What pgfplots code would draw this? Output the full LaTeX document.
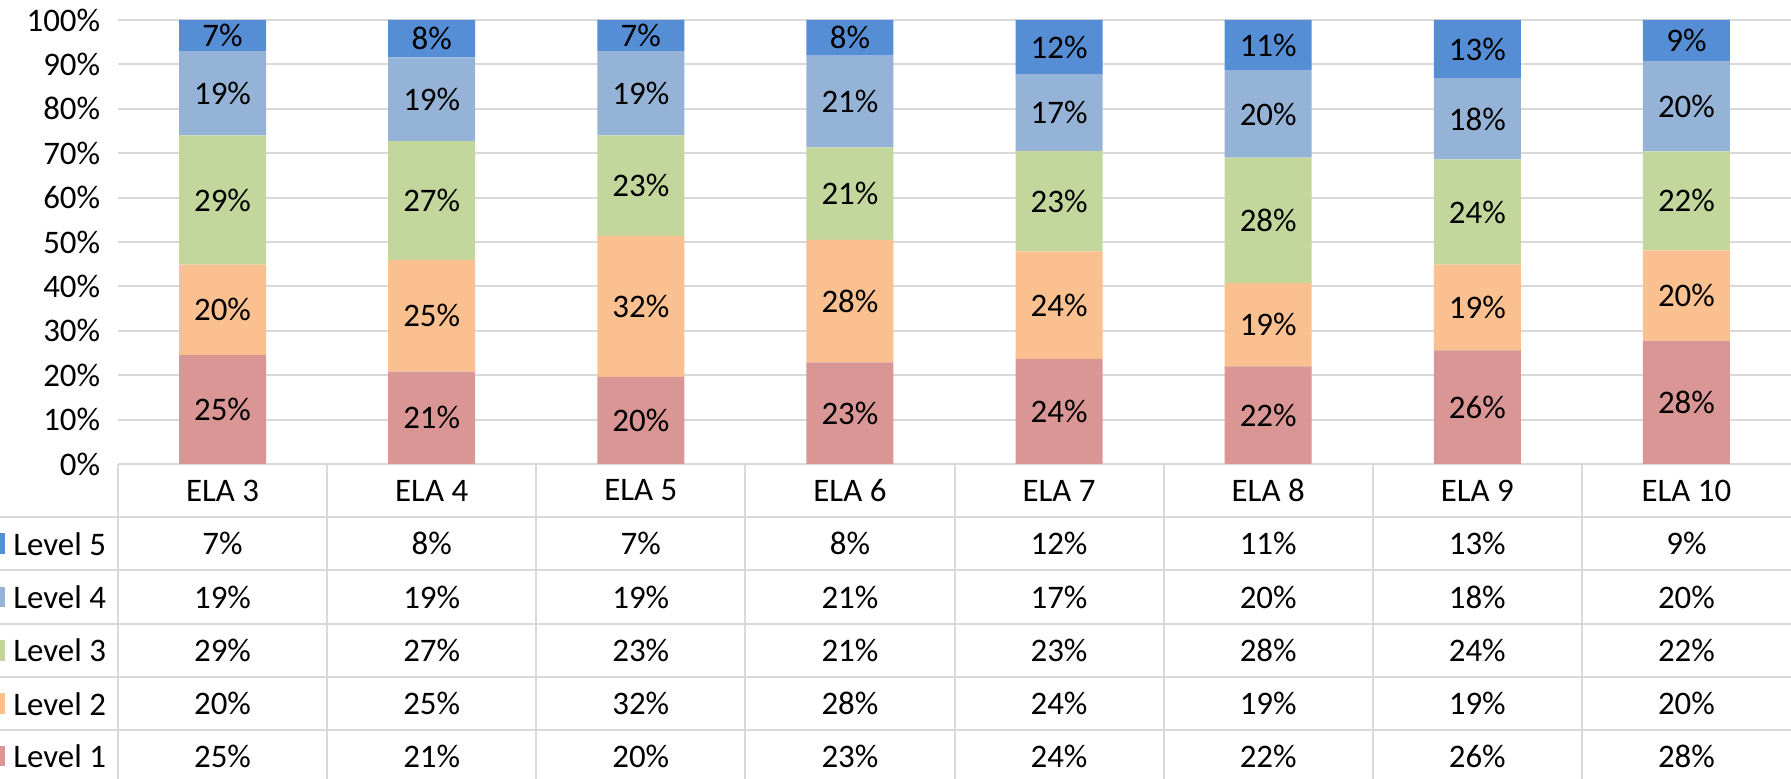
\documentclass[border=0pt]{standalone}
\usepackage{pgfplots}
\pgfplotsset{compat=1.18}
\usepackage{pgfplotstable}
\usepackage{fontspec}
\setmainfont{Carlito}
\definecolor{cL5}{RGB}{85,142,213}
\definecolor{cL4}{RGB}{149,179,215}
\definecolor{cL3}{RGB}{195,214,155}
\definecolor{cL2}{RGB}{250,192,144}
\definecolor{cL1}{RGB}{217,150,148}
\definecolor{gridc}{RGB}{217,217,217}
\newcommand\lbl{\fontsize{16.5}{19}\selectfont}
\pgfplotstableread{
x L1 L2 L3 L4 L5 R1 R2 R3 R4 R5
0 24.6 20.3 29.1 19.0 7.0 25 20 29 19 7
1 20.8 25.2 26.7 18.9 8.4 21 25 27 19 8
2 19.6 31.8 22.6 19.0 7.0 20 32 23 19 7
3 22.9 27.6 20.8 20.7 8.0 23 28 21 21 8
4 23.7 24.2 22.6 17.3 12.2 24 24 23 17 12
5 22.0 18.8 28.2 19.6 11.4 22 19 28 20 11
6 25.6 19.3 23.7 18.2 13.2 26 19 24 18 13
7 27.8 20.3 22.3 20.4 9.2 28 20 22 20 9
}\data
\begin{document}
\begin{tikzpicture}
\pgfplotsset{every axis/.append style={
  at={(0,0)}, anchor=south west, scale only axis,
  width=836.5bp, height=222bp,
  xmin=-0.5, xmax=7.5, ymin=0, ymax=100}}
\begin{axis}[
  ybar stacked, bar width=43.5bp,
  ytick={0,10,...,100}, xtick=\empty,
  axis line style={draw=none},
  major tick length=0pt,
  ymajorgrids, grid style={draw=gridc, line width=1bp},
  yticklabel={\pgfmathprintnumber{\tick}\%},
  yticklabel style={font=\lbl, anchor=east, inner sep=0pt, xshift=-8.75bp, text=black},
  /pgf/number format/assume math mode=true,
  clip=false,
]
\addplot[fill=cL1, draw=none] table[x=x, y=L1]{\data};
\addplot[fill=cL2, draw=none] table[x=x, y=L2]{\data};
\addplot[fill=cL3, draw=none] table[x=x, y=L3]{\data};
\addplot[fill=cL4, draw=none] table[x=x, y=L4]{\data};
\addplot[fill=cL5, draw=none] table[x=x, y=L5]{\data};
\end{axis}
\begin{axis}[hide axis, clip=false,
  nodes near coords={\pgfplotspointmeta\%},
  point meta=explicit symbolic,
  every node near coord/.append style={anchor=center, text=black, font=\lbl, inner sep=0pt},
]
\addplot[draw=none, mark=none] table[x=x, y expr=\thisrow{L1}/2, meta=R1]{\data};
\addplot[draw=none, mark=none] table[x=x, y expr=\thisrow{L1}+\thisrow{L2}/2, meta=R2]{\data};
\addplot[draw=none, mark=none] table[x=x, y expr=\thisrow{L1}+\thisrow{L2}+\thisrow{L3}/2, meta=R3]{\data};
\addplot[draw=none, mark=none] table[x=x, y expr=\thisrow{L1}+\thisrow{L2}+\thisrow{L3}+\thisrow{L4}/2, meta=R4]{\data};
\addplot[draw=none, mark=none] table[x=x, y expr=\thisrow{L1}+\thisrow{L2}+\thisrow{L3}+\thisrow{L4}+\thisrow{L5}/2, meta=R5]{\data};
\end{axis}
\begin{scope}[x=0.5bp, y=0.5bp]
  % table grid
  \foreach \yy in {-53,-106.5,-160,-213,-266.3}
    \draw[gridc, line width=1bp] (-118,\yy) -- (1673,\yy);
  \foreach \k in {0,...,7}
    \draw[gridc, line width=1bp] ({209.125*\k},0) -- ({209.125*\k},-315);
  % header
  \foreach \lab [count=\i from 0] in {ELA 3,ELA 4,ELA 5,ELA 6,ELA 7,ELA 8,ELA 9,ELA 10}
    \node[font=\lbl, inner sep=0pt] at ({209.125*(\i+0.5)},-26.5) {\lab};
  % legend
  \foreach \c/\t/\yy in {cL5/Level 5/-79.7, cL4/Level 4/-133, cL3/Level 3/-186.5, cL2/Level 2/-239.7, cL1/Level 1/-292} {
    \fill[\c] (-130,\yy-10.3) rectangle (-113,\yy+10.3);
    \node[font=\lbl, anchor=west, inner sep=0pt] at (-105,\yy) {\t};
  }
  % values
  \foreach \i in {0,...,7} {
    \foreach \c/\yy in {R5/-79.7, R4/-133, R3/-186.5, R2/-239.7, R1/-292} {
      \pgfplotstablegetelem{\i}{\c}\of\data
      \node[font=\lbl, inner sep=0pt] at ({209.125*(\i+0.5)},\yy) {\pgfplotsretval\%};
    }
  }
  \pgfresetboundingbox
  \path[use as bounding box] (-118,-315) rectangle (1673,464);
\end{scope}
\end{tikzpicture}
\end{document}
